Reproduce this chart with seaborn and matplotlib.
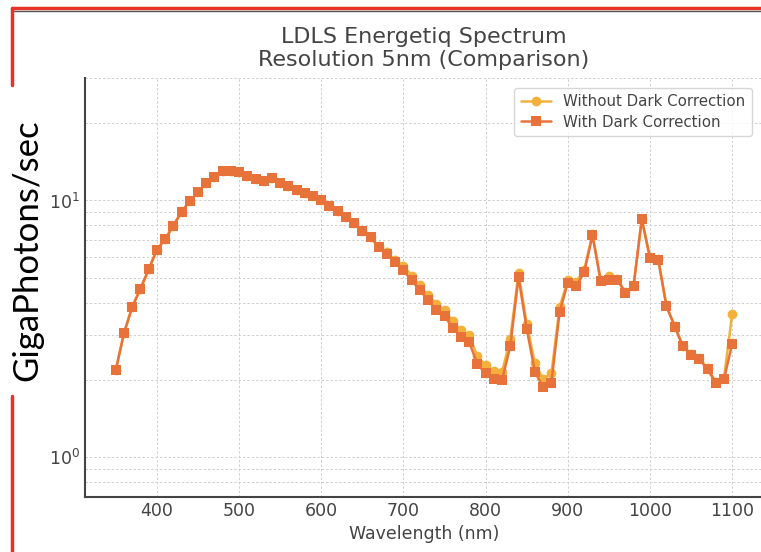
import numpy as np
import pandas as pd
import seaborn as sns
import matplotlib.pyplot as plt
from matplotlib.lines import Line2D

# wavelengths (nm), 10 nm steps
wavelength = list(range(350, 1101, 10))

# GigaPhotons/sec
with_dark = [2.19, 3.05, 3.85, 4.53, 5.39, 6.43, 7.07, 7.97, 9.04, 9.94,
             10.8, 11.7, 12.3, 13.0, 13.0, 12.9, 12.5, 12.1, 11.9, 12.2,
             11.7, 11.4, 11.0, 10.7, 10.4, 10.0, 9.56, 9.09, 8.61, 8.19,
             7.64, 7.19, 6.58, 6.20, 5.75, 5.34, 4.88, 4.47, 4.09, 3.73,
             3.54, 3.20, 2.94, 2.81, 2.30, 2.12, 2.01, 2.00, 2.71, 5.03,
             3.16, 2.15, 1.87, 1.95, 3.68, 4.79, 4.63, 5.26, 7.31, 4.85,
             4.91, 4.92, 4.37, 4.64, 8.44, 5.96, 5.89, 3.87, 3.23, 2.70,
             2.51, 2.41, 2.20, 1.95, 2.01, 2.77]

without_dark = [2.19, 3.05, 3.85, 4.53, 5.39, 6.43, 7.07, 7.97, 9.04, 9.94,
                10.8, 11.7, 12.3, 13.0, 13.0, 12.9, 12.5, 12.1, 11.9, 12.2,
                11.7, 11.4, 11.0, 10.7, 10.4, 10.0, 9.56, 9.09, 8.61, 8.19,
                7.64, 7.19, 6.62, 6.28, 5.85, 5.58, 5.10, 4.67, 4.27, 3.96,
                3.73, 3.39, 3.12, 2.98, 2.47, 2.28, 2.17, 2.15, 2.90, 5.21,
                3.31, 2.32, 2.02, 2.12, 3.84, 4.89, 4.82, 5.37, 7.42, 4.90,
                5.07, 4.95, 4.40, 4.66, 8.50, 6.00, 5.92, 3.90, 3.25, 2.72,
                2.53, 2.43, 2.22, 1.97, 2.03, 3.62]

lbl_without = 'Without Dark Correction'
lbl_with = 'With Dark Correction'

df = pd.concat([
    pd.DataFrame({'wl': wavelength, 'val': without_dark, 'series': lbl_without}),
    pd.DataFrame({'wl': wavelength, 'val': with_dark, 'series': lbl_with}),
])

sns.set_style('whitegrid')
plt.rcParams['font.family'] = ['DejaVu Sans']

fig = plt.figure(figsize=(7.61, 5.52), dpi=100)
ax = fig.add_axes([85 / 761, 55 / 552, 678 / 761, 419 / 552])

colors = {lbl_without: '#F3B13C', lbl_with: '#E8733A'}
sns.lineplot(data=df, x='wl', y='val', hue='series', style='series',
             markers={lbl_without: 'o', lbl_with: 's'}, dashes=False,
             palette=colors, ax=ax, markersize=7, linewidth=1.8,
             markeredgewidth=0, legend=False)

ax.set_yscale('log')
ax.set_xlim(312.5, 1137.5)
ax.set_ylim(0.7, 30)
ax.set_xticks([400, 500, 600, 700, 800, 900, 1000, 1100])

ax.grid(True, which='major', linestyle=(0, (2.5, 2)), color='#cfcfcf', linewidth=0.7)
ax.grid(True, which='minor', axis='y', linestyle=(0, (2.5, 2)), color='#cfcfcf', linewidth=0.7)
ax.set_axisbelow(True)
ax.tick_params(which='both', direction='in', colors='#444444', labelsize=12.5)
ax.tick_params(which='major', length=5, width=1.2)
ax.tick_params(which='minor', length=3, width=0.8)
ax.tick_params(axis='y', which='minor', labelleft=False)
for s in ['top', 'right']:
    ax.spines[s].set_visible(False)
for s in ['left', 'bottom']:
    ax.spines[s].set_color('#444444')
    ax.spines[s].set_linewidth(1.5)

ax.set_xlabel('Wavelength (nm)', fontsize=12.5, color='#444444', labelpad=4)
ax.set_ylabel('')
ax.set_title('LDLS Energetiq Spectrum\nResolution 5nm (Comparison)',
             fontsize=16, color='#444444', pad=9, linespacing=1.15)

handles = [Line2D([], [], color=colors[lbl_without], marker='o', markersize=7,
                  markeredgewidth=0, linewidth=1.8),
           Line2D([], [], color=colors[lbl_with], marker='s', markersize=7,
                  markeredgewidth=0, linewidth=1.8)]
leg = ax.legend(handles, [lbl_without, lbl_with], loc='upper right',
                bbox_to_anchor=(0.995, 0.995), fontsize=10.8, frameon=True,
                borderpad=0.45, labelspacing=0.35)
for t in leg.get_texts():
    t.set_color('#444444')
leg.get_frame().set_edgecolor('#cccccc')

# slide decoration: red frame lines and the big axis label
fig.add_artist(Line2D([12 / 761, 1.0], [1 - 8 / 552, 1 - 8 / 552],
                      transform=fig.transFigure, color='#E8312A', linewidth=2.5))
fig.add_artist(Line2D([14 / 761, 1.0], [1 - 11 / 552, 1 - 11 / 552],
                      transform=fig.transFigure, color='#555555', linewidth=1.0))
fig.add_artist(Line2D([12 / 761, 12 / 761], [1 - 8 / 552, 1 - 85 / 552],
                      transform=fig.transFigure, color='#E8312A', linewidth=2.5))
fig.add_artist(Line2D([12 / 761, 12 / 761], [1 - 396 / 552, 0.0],
                      transform=fig.transFigure, color='#E8312A', linewidth=2.5))
fig.text(27 / 761, 1 - 250 / 552, 'GigaPhotons/sec', rotation=90,
         ha='center', va='center', fontsize=25, family=['Lato', 'DejaVu Sans'],
         color='black')

fig.savefig('out.png', dpi=100)
